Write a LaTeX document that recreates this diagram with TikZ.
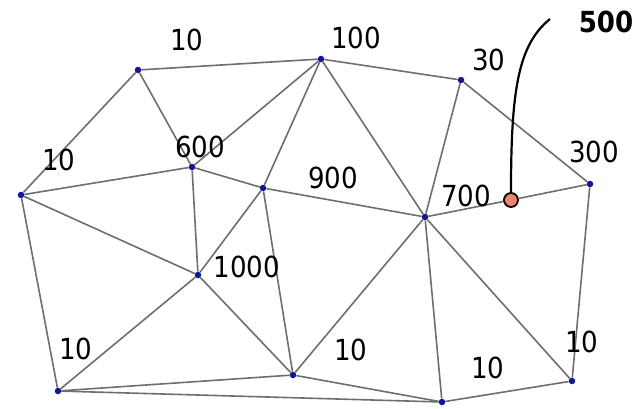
\documentclass[tikz,border=0pt]{standalone}
\usepackage{fontspec}
\usepackage{tikz}
\newfontfamily\meshfont{DejaVu Sans Condensed}
\definecolor{dotblue}{RGB}{20, 20, 150}
\definecolor{edgegray}{RGB}{110, 110, 110}
\definecolor{salmon}{RGB}{240, 130, 112}
\usetikzlibrary{positioning, calc}

\begin{document}
\begin{tikzpicture}[
    x=1pt, y=-1pt,
    dot/.style={circle, fill=dotblue, inner sep=0pt, minimum size=6.5pt},
    probe/.style={circle, draw=black, fill=salmon, line width=1.8pt, inner sep=0pt, minimum size=14pt},
    edge/.style={draw=edgegray, line width=1.6pt},
    val/.style={font=\meshfont\fontsize{29}{29}\selectfont, inner sep=0pt}
]
    \useasboundingbox (0,0) rectangle (640,409);

    % Nodes
    \node[dot] (a) at (138,70) {};
    \node[dot] (b) at (321,59) {};
    \node[dot] (c) at (461,80) {};
    \node[dot] (d) at (21,195) {};
    \node[dot] (e) at (192,167) {};
    \node[dot] (f) at (263,188) {};
    \node[dot] (g) at (425,217) {};
    \node[dot] (h) at (590,184) {};
    \node[dot] (i) at (198,275) {};
    \node[dot] (j) at (58,391) {};
    \node[dot] (k) at (293,375) {};
    \node[dot] (l) at (442,402) {};
    \node[dot] (m) at (572,381) {};
    \node[probe] (p) at (511,200) {};

    % Edges
    \draw[edge] (a) -- (b);
    \draw[edge] (a) -- (d);
    \draw[edge] (a) -- (e);
    \draw[edge] (b) -- (e);
    \draw[edge] (b) -- (f);
    \draw[edge] (b) -- (c);
    \draw[edge] (b) -- (g);
    \draw[edge] (c) -- (g);
    \draw[edge] (c) -- (h);
    \draw[edge] (d) -- (e);
    \draw[edge] (d) -- (i);
    \draw[edge] (d) -- (j);
    \draw[edge] (e) -- (f);
    \draw[edge] (e) -- (i);
    \draw[edge] (f) -- (i);
    \draw[edge] (f) -- (g);
    \draw[edge] (f) -- (k);
    \draw[edge] (i) -- (j);
    \draw[edge] (i) -- (k);
    \draw[edge] (g) -- (p);
    \draw[edge] (p) -- (h);
    \draw[edge] (g) -- (k);
    \draw[edge] (g) -- (l);
    \draw[edge] (g) -- (m);
    \draw[edge] (h) -- (m);
    \draw[edge] (j) -- (k);
    \draw[edge] (j) -- (l);
    \draw[edge] (k) -- (l);
    \draw[edge] (l) -- (m);

    % Values
    \node[val] (va) at (187,40) {10};
    \node[val] (vb) at (356,38) {100};
    \node[val] (vc) at (489,60) {30};
    \node[val] (vd) at (59,160) {10};
    \node[val] (ve) at (200,147) {600};
    \node[val] (vf) at (333,178) {900};
    \node[val] (vg) at (466,196) {700};
    \node[val] (vh) at (594,152) {300};
    \node[val] (vi) at (247,267) {1000};
    \node[val] (vj) at (76,349) {10};
    \node[val] (vk) at (351,350) {10};
    \node[val] (vl) at (488,368) {10};
    \node[val] (vm) at (582,342) {10};

    % Pointer
    \coordinate (tip) at (550,19);
    \node[val, font=\meshfont\bfseries\fontsize{29}{29}\selectfont] (v500) at (606,22) {500};
    \draw[black, line width=2.2pt] (p.north) .. controls (511,90) and (518,45) .. (tip);
\end{tikzpicture}
\end{document}
